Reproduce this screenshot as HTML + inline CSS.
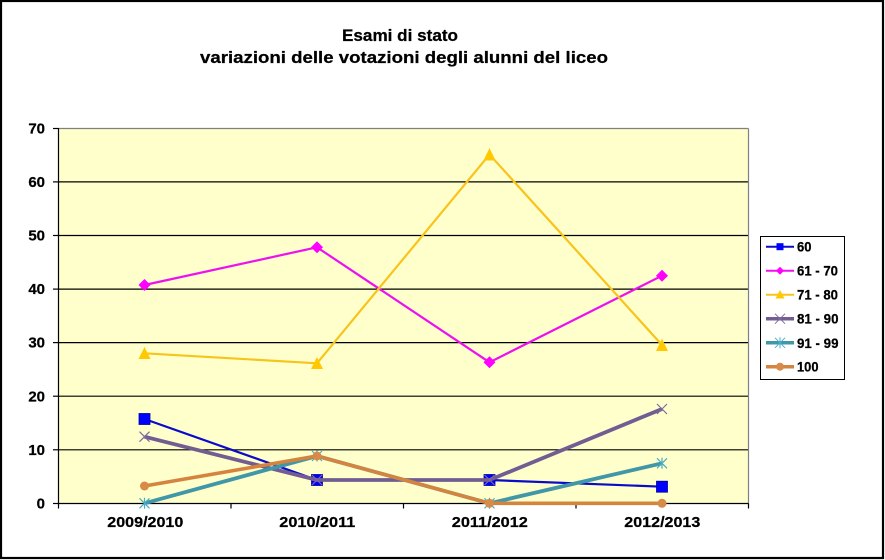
<!DOCTYPE html>
<html>
<head>
<meta charset="utf-8">
<style>
html,body{margin:0;padding:0;background:#fff;}
svg{display:block;}
text{font-family:"Liberation Sans",Arial,sans-serif;font-weight:bold;fill:#000;stroke:#000;stroke-width:0.25;}
</style>
</head>
<body>
<svg width="885" height="560" viewBox="0 0 885 560" xmlns="http://www.w3.org/2000/svg">
  <rect x="0" y="0" width="885" height="560" fill="#fff"/>
  <rect x="1" y="1" width="882" height="557" fill="none" stroke="#000" stroke-width="2.2"/>

  <!-- Title -->
  <text x="342" y="41" font-size="17" textLength="116" lengthAdjust="spacingAndGlyphs">Esami di stato</text>
  <text x="200" y="63" font-size="17" textLength="408" lengthAdjust="spacingAndGlyphs">variazioni delle votazioni degli alunni del liceo</text>

  <!-- Plot area -->
  <rect x="58.5" y="128.5" width="690" height="375" fill="#FFFFCC"/>
  <g stroke="#000" stroke-width="1.2">
    <line x1="58.5" y1="181.9" x2="748.5" y2="181.9"/>
    <line x1="58.5" y1="235.5" x2="748.5" y2="235.5"/>
    <line x1="58.5" y1="289.1" x2="748.5" y2="289.1"/>
    <line x1="58.5" y1="342.6" x2="748.5" y2="342.6"/>
    <line x1="58.5" y1="396.2" x2="748.5" y2="396.2"/>
    <line x1="58.5" y1="449.8" x2="748.5" y2="449.8"/>
  </g>
  <g stroke="#808080" stroke-width="1.2" fill="none">
    <line x1="58.5" y1="128.5" x2="748.5" y2="128.5"/>
    <line x1="748.5" y1="128.5" x2="748.5" y2="503.5"/>
  </g>
  <g stroke="#000" stroke-width="1.2">
    <line x1="58.5" y1="128" x2="58.5" y2="504"/>
    <line x1="58" y1="503.5" x2="748.5" y2="503.5"/>
    <line x1="53" y1="128.5" x2="58.5" y2="128.5"/>
    <line x1="53" y1="181.9" x2="58.5" y2="181.9"/>
    <line x1="53" y1="235.5" x2="58.5" y2="235.5"/>
    <line x1="53" y1="289.1" x2="58.5" y2="289.1"/>
    <line x1="53" y1="342.6" x2="58.5" y2="342.6"/>
    <line x1="53" y1="396.2" x2="58.5" y2="396.2"/>
    <line x1="53" y1="449.8" x2="58.5" y2="449.8"/>
    <line x1="53" y1="503.5" x2="58.5" y2="503.5"/>
    <line x1="58.5" y1="503.5" x2="58.5" y2="508.5"/>
    <line x1="231" y1="503.5" x2="231" y2="508.5"/>
    <line x1="403.5" y1="503.5" x2="403.5" y2="508.5"/>
    <line x1="576" y1="503.5" x2="576" y2="508.5"/>
    <line x1="748.5" y1="503.5" x2="748.5" y2="508.5"/>
  </g>

  <!-- Y labels -->
  <g font-size="15" text-anchor="end">
    <text x="45" y="133.5">70</text>
    <text x="45" y="187">60</text>
    <text x="45" y="240.6">50</text>
    <text x="45" y="294.2">40</text>
    <text x="45" y="347.7">30</text>
    <text x="45" y="401.3">20</text>
    <text x="45" y="454.9">10</text>
    <text x="45" y="508.5">0</text>
  </g>

  <!-- X labels -->
  <g font-size="15">
    <text x="107.3" y="527" textLength="76" lengthAdjust="spacingAndGlyphs">2009/2010</text>
    <text x="279.3" y="527" textLength="76" lengthAdjust="spacingAndGlyphs">2010/2011</text>
    <text x="451.8" y="527" textLength="76" lengthAdjust="spacingAndGlyphs">2011/2012</text>
    <text x="624.3" y="527" textLength="76" lengthAdjust="spacingAndGlyphs">2012/2013</text>
  </g>

  <!-- Series 60 -->
  <polyline points="144.5,419 317,480 489.5,480 662,486.7" fill="none" stroke="#0A0ACC" stroke-width="2.2"/>
  <g fill="#0000FF" stroke="#0000A0" stroke-width="0.8">
    <rect x="139" y="413.5" width="11" height="11"/>
    <rect x="311.5" y="474.5" width="11" height="11"/>
    <rect x="484" y="474.5" width="11" height="11"/>
    <rect x="656.5" y="481.2" width="11" height="11"/>
  </g>

  <!-- Series 61-70 -->
  <polyline points="144.5,285 317,247.3 489.5,362.3 662,275.7" fill="none" stroke="#EE10EE" stroke-width="2.2"/>
  <g fill="#FF00FF">
    <polygon points="144.5,279 150.5,285 144.5,291 138.5,285"/>
    <polygon points="317,241.3 323,247.3 317,253.3 311,247.3"/>
    <polygon points="489.5,356.3 495.5,362.3 489.5,368.3 483.5,362.3"/>
    <polygon points="662,269.7 668,275.7 662,281.7 656,275.7"/>
  </g>

  <!-- Series 71-80 -->
  <polyline points="144.5,353.3 317,363.3 489.5,154.5 662,345" fill="none" stroke="#F8C41C" stroke-width="2.2"/>
  <g fill="#FFC800">
    <polygon points="144.5,347 150.5,359 138.5,359"/>
    <polygon points="317,357 323,369 311,369"/>
    <polygon points="489.5,148 495.5,160.5 483.5,160.5"/>
    <polygon points="662,338.7 668,351 656,351"/>
  </g>

  <!-- Series 81-90 -->
  <polyline points="144.5,436.7 317,480 489.5,480 662,409" fill="none" stroke="#725D92" stroke-width="3.8"/>
  <g stroke="#7F6A9C" stroke-width="1.2">
    <path d="M139.5,431.7 L149.5,441.7 M149.5,431.7 L139.5,441.7"/>
    <path d="M312,475 L322,485 M322,475 L312,485"/>
    <path d="M484.5,475 L494.5,485 M494.5,475 L484.5,485"/>
    <path d="M657,404 L667,414 M667,404 L657,414"/>
  </g>

  <!-- Series 91-99 -->
  <polyline points="144.5,503.3 317,456 489.5,503.3 662,463.3" fill="none" stroke="#4197A8" stroke-width="3.8"/>
  <g stroke="#4BACC6" stroke-width="1.2">
    <path d="M139.5,498.3 L149.5,508.3 M149.5,498.3 L139.5,508.3 M144.5,497.8 L144.5,508.8"/>
    <path d="M312,451 L322,461 M322,451 L312,461 M317,450.5 L317,461.5"/>
    <path d="M484.5,498.3 L494.5,508.3 M494.5,498.3 L484.5,508.3 M489.5,497.8 L489.5,508.8"/>
    <path d="M657,458.3 L667,468.3 M667,458.3 L657,468.3 M662,457.8 L662,468.8"/>
  </g>

  <!-- Series 100 -->
  <polyline points="144.5,486 317,456 489.5,503.3 662,503.3" fill="none" stroke="#D5843F" stroke-width="3.6"/>
  <g fill="#D88A48">
    <circle cx="144.5" cy="486" r="4.5"/>
    <circle cx="317" cy="456" r="4.5"/>
    <circle cx="489.5" cy="503.3" r="4.5"/>
    <circle cx="662" cy="503.3" r="4.5"/>
  </g>

  <!-- Legend -->
  <rect x="760.5" y="236.5" width="84" height="143" fill="#fff" stroke="#000" stroke-width="1"/>
  <g font-size="14">
    <line x1="766" y1="246.7" x2="794" y2="246.7" stroke="#0A0ACC" stroke-width="2"/>
    <rect x="776.5" y="243.2" width="7" height="7" fill="#0000FF"/>
    <text x="797" y="251.7" textLength="14.5" lengthAdjust="spacingAndGlyphs">60</text>

    <line x1="766" y1="270.7" x2="794" y2="270.7" stroke="#EE10EE" stroke-width="2"/>
    <polygon points="780,266.7 784,270.7 780,274.7 776,270.7" fill="#FF00FF"/>
    <text x="797" y="275.7" textLength="41" lengthAdjust="spacingAndGlyphs">61 - 70</text>

    <line x1="766" y1="294.7" x2="794" y2="294.7" stroke="#F8C41C" stroke-width="2"/>
    <polygon points="780,290 784.5,298.5 775.5,298.5" fill="#FFC800"/>
    <text x="797" y="299.7" textLength="41" lengthAdjust="spacingAndGlyphs">71 - 80</text>

    <line x1="766" y1="318.7" x2="794" y2="318.7" stroke="#725D92" stroke-width="3.5"/>
    <path d="M775,313.7 L785,323.7 M785,313.7 L775,323.7" stroke="#7F6A9C" stroke-width="1"/>
    <text x="797" y="323.7" textLength="41.5" lengthAdjust="spacingAndGlyphs">81 - 90</text>

    <line x1="766" y1="342.8" x2="794" y2="342.8" stroke="#4197A8" stroke-width="3.5"/>
    <path d="M775,337.8 L785,347.8 M785,337.8 L775,347.8 M780,337.3 L780,348.3" stroke="#4BACC6" stroke-width="1"/>
    <text x="797" y="347.8" textLength="41.5" lengthAdjust="spacingAndGlyphs">91 - 99</text>

    <line x1="766" y1="366.7" x2="794" y2="366.7" stroke="#D5843F" stroke-width="3.5"/>
    <circle cx="780" cy="366.7" r="4" fill="#D88A48"/>
    <text x="797" y="371.7" textLength="21.5" lengthAdjust="spacingAndGlyphs">100</text>
  </g>
</svg>
</body>
</html>
